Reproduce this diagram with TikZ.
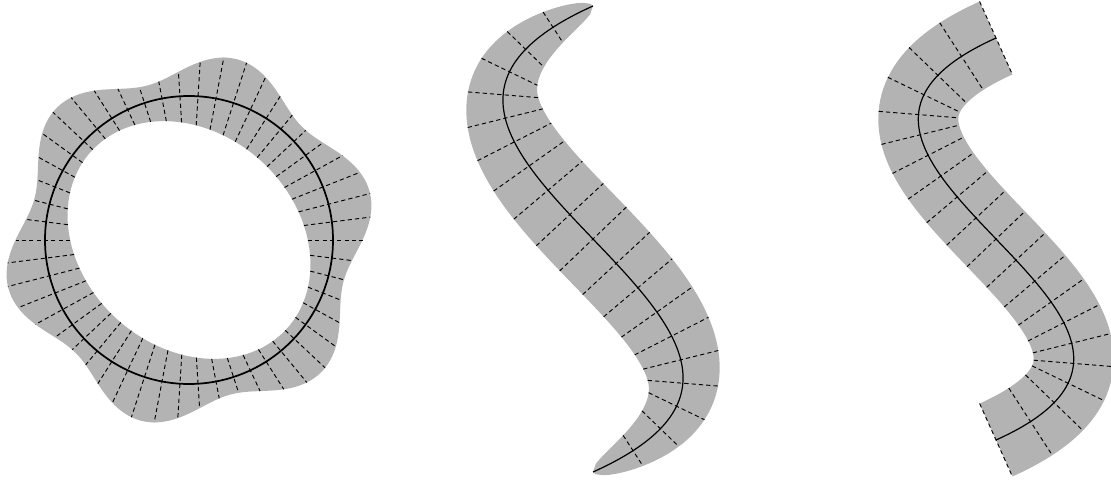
\documentclass[tikz,border=0pt]{standalone}
\usetikzlibrary{calc}
\definecolor{cband}{HTML}{B3B3B3}
\tikzset{
  every picture/.style={x=0.75pt, y=0.75pt},
  band/.style={fill=cband, draw=none},
  axis/.style={draw=black, line width=0.9pt},
  normal/.style={draw=black, line width=0.7pt, dash pattern=on 3.2pt off 2.3pt},
  declare function={
    ringout(\a)=173.5+13.5*sin(6*\a);
    ringin(\a)=100/sqrt((cos(\a-138)/1.32)*(cos(\a-138)/1.32)+(sin(\a-138)/1.07)*(sin(\a-138)/1.07));
    curvex(\t)=-936*\t*(1-\t)*(1-2*\t);
    curvey(\t)=233*((1-\t)*(1-\t)*(1-\t)-\t*\t*\t)+279*\t*(1-\t)*(1-2*\t);
    tanx(\t)=-936*(1-6*\t+6*\t*\t);
    tany(\t)=-699*((1-\t)*(1-\t)+\t*\t)+279*(1-6*\t+6*\t*\t);
    nrmx(\t)=-tany(\t)/veclen(tanx(\t),tany(\t));
    nrmy(\t)=tanx(\t)/veclen(tanx(\t),tany(\t));
    taper(\t)=46*sqrt(abs(sin(180*\t)));
  },
}

\begin{document}
\begin{tikzpicture}
  \useasboundingbox (0,0) rectangle (1111,480);
  % wavy ring round a circle
  \begin{scope}[shift={(189,240)}]
    \fill[band, even odd rule] plot[domain=0:360, samples=241, variable=\a] (\a:{ringout(\a)}) -- cycle
      plot[domain=0:360, samples=181, variable=\a] (\a:{ringin(\a)}) -- cycle;
    \foreach \k in {0,...,49} {
      \pgfmathsetmacro\a{7.2*\k}
      \draw[normal] (\a:{ringin(\a)}) -- (\a:{ringout(\a)});
    }
    \draw[axis, line width=1.3pt] (0,0) circle (144);
  \end{scope}
  % tapered band
  \begin{scope}[shift={(593,241)}]
    \fill[band] plot[domain=0:1, samples=161, variable=\t] ({curvex(\t)+taper(\t)*nrmx(\t)}, {curvey(\t)+taper(\t)*nrmy(\t)})
      -- plot[domain=1:0, samples=161, variable=\t] ({curvex(\t)-taper(\t)*nrmx(\t)}, {curvey(\t)-taper(\t)*nrmy(\t)}) -- cycle;
    \foreach \k in {1,...,19} {
      \pgfmathsetmacro\t{\k/20}
      \draw[normal] ({curvex(\t)-taper(\t)*nrmx(\t)}, {curvey(\t)-taper(\t)*nrmy(\t)})
        -- ({curvex(\t)+taper(\t)*nrmx(\t)}, {curvey(\t)+taper(\t)*nrmy(\t)});
    }
    \draw[axis] (0,233) .. controls (-312,93) and (312,-93) .. (0,-233);
  \end{scope}
  % band of constant width
  \begin{scope}[shift={(996,241)}]
    \fill[band] plot[domain=0:1, samples=121, variable=\t] ({0.8627*curvex(\t)+40*nrmx(\t)}, {0.8627*curvey(\t)+40*nrmy(\t)})
      -- plot[domain=1:0, samples=121, variable=\t] ({0.8627*curvex(\t)-40*nrmx(\t)}, {0.8627*curvey(\t)-40*nrmy(\t)}) -- cycle;
    \foreach \k in {0,...,20} {
      \pgfmathsetmacro\t{\k/20}
      \draw[normal] ({0.8627*curvex(\t)-40*nrmx(\t)}, {0.8627*curvey(\t)-40*nrmy(\t)})
        -- ({0.8627*curvex(\t)+40*nrmx(\t)}, {0.8627*curvey(\t)+40*nrmy(\t)});
    }
    \draw[axis] (0,201) .. controls (-269.2,80.2) and (269.2,-80.2) .. (0,-201);
  \end{scope}
\end{tikzpicture}
\end{document}
